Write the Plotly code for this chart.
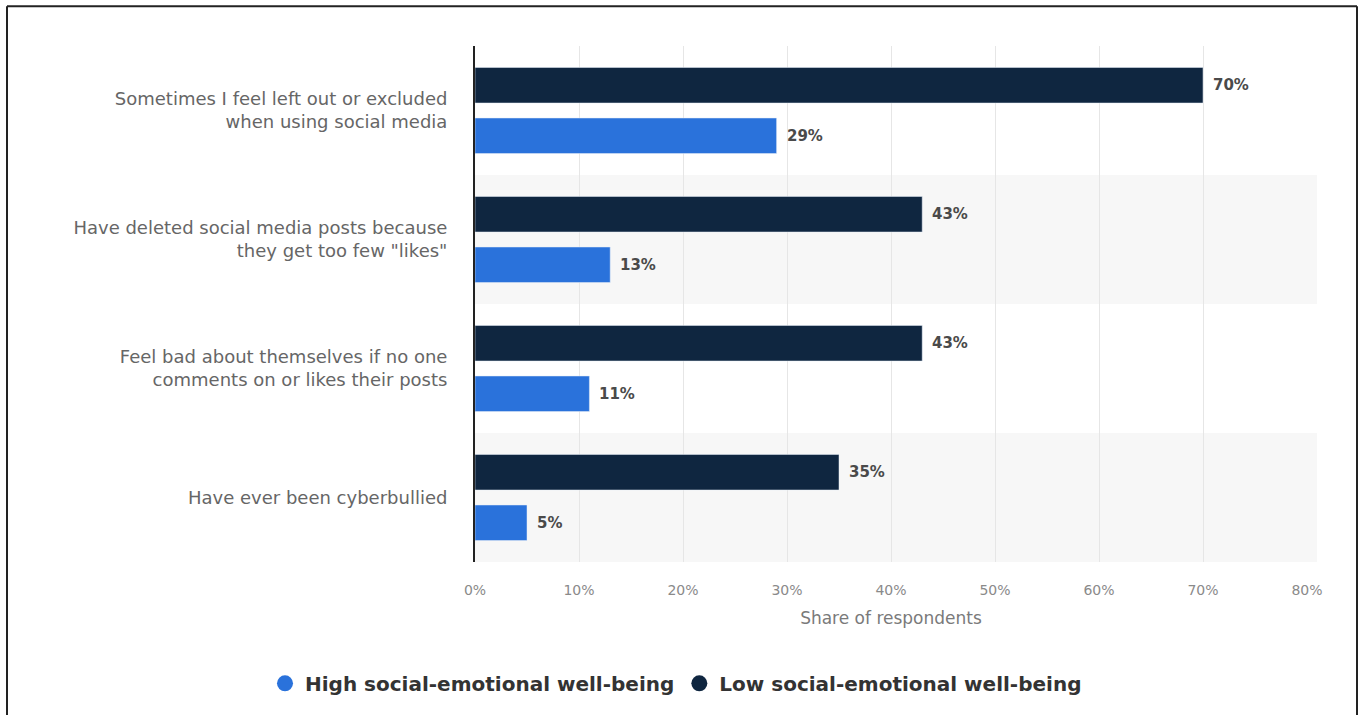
import plotly.graph_objects as go

# Survey statements (top to bottom) and shares per well-being group
categories = [
    "Sometimes I feel left out or excluded<br>when using social media",
    "Have deleted social media posts because<br>they get too few \"likes\"",
    "Feel bad about themselves if no one<br>comments on or likes their posts",
    "Have ever been cyberbullied",
]
low_wellbeing = [70, 43, 43, 35]
high_wellbeing = [29, 13, 11, 5]
x_ticks = [0, 10, 20, 30, 40, 50, 60, 70, 80]
x_tick_labels = [f"{v}%" for v in x_ticks]

DARK = "#0f2640"
BLUE = "#2a72db"
FONT = "DejaVu Sans"
W, H = 1360, 715
L, R, T, B = 475, 53, 46, 150


def px_x(p):
    return (p - L) / (W - L - R)


def px_y(p):
    return 1 - (p - T) / (H - T - B)


fig = go.Figure()
fig.add_trace(go.Bar(
    y=categories, x=low_wellbeing, orientation="h",
    name="Low social-emotional well-being", marker_color=DARK,
    showlegend=False,
))
fig.add_trace(go.Bar(
    y=categories, x=high_wellbeing, orientation="h",
    name="High social-emotional well-being", marker_color=BLUE,
    showlegend=False,
))

# Legend entries with round markers
for name, color in [("High social-emotional well-being", BLUE),
                    ("Low social-emotional well-being", DARK)]:
    fig.add_trace(go.Scatter(
        x=[None], y=[None], mode="markers", name=name,
        marker=dict(color=color, size=19, symbol="circle"),
    ))

# Value labels placed just right of each bar end
annotations = []
for vals, shift in [(low_wellbeing, -1), (high_wellbeing, 1)]:
    for cat, v in zip(categories, vals):
        annotations.append(dict(
            x=v, y=cat, xref="x", yref="y", text=f"{v}%",
            showarrow=False, xanchor="left", xshift=8,
            yshift=-shift * 25.5,
            font=dict(family=FONT, size=15, color="#4a4a4a", weight="bold"),
        ))

# Alternate light row shading behind every second category
shapes = []
for i in (1, 3):
    shapes.append(dict(
        type="rect", xref="x domain", yref="y", layer="below",
        x0=0, x1=1.012, y0=i - 0.5, y1=i + 0.5,
        fillcolor="#f7f7f7", line_width=0,
    ))

# Outer frame around the graphic (open at the bottom edge of the page)
frame_x0, frame_x1, frame_top, frame_bottom = px_x(7), px_x(1357), px_y(6), px_y(760)
for x0, y0, x1, y1 in [
    (frame_x0, frame_top, frame_x1, frame_top),
    (frame_x0, frame_top, frame_x0, frame_bottom),
    (frame_x1, frame_top, frame_x1, frame_bottom),
]:
    shapes.append(dict(
        type="line", xref="paper", yref="paper",
        x0=x0, y0=y0, x1=x1, y1=y1,
        line=dict(color="#222222", width=2),
    ))

fig.update_layout(
    width=W, height=H,
    margin=dict(l=L, r=R, t=T, b=B),
    paper_bgcolor="white", plot_bgcolor="rgba(0,0,0,0)",
    barmode="group", bargap=0.217, bargroupgap=0.297,
    font=dict(family=FONT, color="#666666"),
    shapes=shapes, annotations=annotations,
    xaxis=dict(
        range=[0, 80], tickvals=x_ticks, ticktext=x_tick_labels,
        showgrid=True, gridcolor="#e6e6e6", gridwidth=1,
        zeroline=False, showline=False, ticks="",
        tickfont=dict(size=14, color="#8a8a8a"),
        title=dict(text="Share of respondents", font=dict(size=17, color="#7a7a7a"), standoff=15),
        ticklabelstandoff=18,
    ),
    yaxis=dict(
        autorange="reversed", showgrid=False, zeroline=False,
        showline=True, linecolor="#222222", linewidth=2, ticks="",
        tickfont=dict(size=18, color="#666666"), ticklabelstandoff=22,
    ),
    legend=dict(
        orientation="h", x=px_x(676), xanchor="center", y=px_y(687), yanchor="middle",
        font=dict(size=20, color="#333333", family=FONT, weight="bold"),
        itemsizing="trace", traceorder="normal",
    ),
    showlegend=True,
)

fig.write_html("out.html")
